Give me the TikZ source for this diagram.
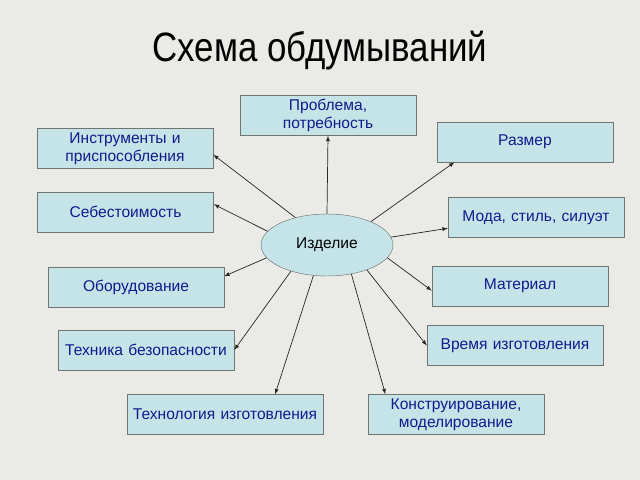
\documentclass[tikz,border=0pt]{standalone}
\usepackage{fontspec}
\setmainfont{Liberation Sans}
\newfontfamily\titlefont[FakeStretch=0.85]{Liberation Sans}
\usetikzlibrary{shapes,arrows}
\definecolor{boxfill}{RGB}{196,228,232}
\definecolor{boxtext}{RGB}{18,26,140}
\definecolor{paper}{RGB}{234,234,231}

\begin{document}
\begin{tikzpicture}[x=0.03cm,y=-0.03cm]
        % slide with the idea map around the product
        \tikzstyle{block} = [draw=black!55,fill=boxfill,rectangle,minimum width=5.28cm,minimum height=1.2cm,text width=5cm,align=center,font=\fontsize{13.3}{15}\selectfont,text=boxtext,inner sep=1pt];
        \tikzstyle{arr} = [->,>=latex,line width=0.6pt,black!85];

        \fill[paper] (0,0) rectangle (640,480);
        \node[font=\titlefont\fontsize{35}{40}\selectfont] (title) at (320,51) {Схема обдумываний};

        \node[draw=black!55,fill=boxfill,ellipse,minimum width=3.96cm,minimum height=1.86cm,inner sep=0pt,font=\fontsize{13.3}{15}\selectfont] (izd) at (327,245) {Изделие};

        \node[block] (prob)   at (328,115.5) {Проблема,\\ потребность};
        \node[block] (tools)  at (125,148.5) {Инструменты и\\ приспособления};
        \node[block] (size)   at (525,142)   {Размер};
        \node[block] (cost)   at (125.5,212) {Себестоимость};
        \node[block] (style)  at (536,217.5) {Мода, стиль, силуэт};
        \node[block] (equip)  at (136,287)   {Оборудование};
        \node[block] (mater)  at (520,286)   {Материал};
        \node[block] (safety) at (146,350)   {Техника безопасности};
        \node[block] (time)   at (515,345.5) {Время изготовления};
        \node[block,minimum width=5.88cm,text width=5.6cm] (tech) at (225,414.5) {Технология изготовления};
        \node[block] (design) at (456,414.5) {Конструирование,\\ моделирование};

        \draw[arr] (izd.north) -- (prob.south);
        \draw[arr] (izd.139) -- (tools.-4);
        \draw[arr] (izd.167) -- (cost.5);
        \draw[arr] (izd.28) -- (size.196);
        \draw[arr] (izd.7) -- (style.187);
        \draw[arr] (izd.192) -- (equip.7);
        \draw[arr] (izd.348) -- (mater.183);
        \draw[arr] (izd.216) -- (safety.east);
        \draw[arr] (izd.328) -- (time.west);
        \draw[arr] (izd.246) -- (tech.22);
        \draw[arr] (izd.310) -- (design.164);

    \end{tikzpicture}
\end{document}
